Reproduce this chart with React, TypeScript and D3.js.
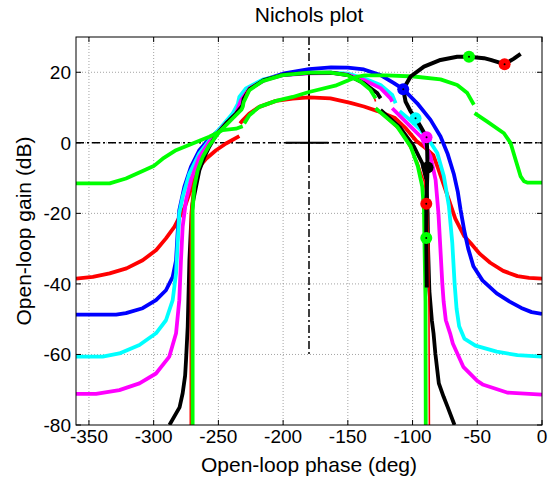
import React from "react";
import * as d3 from "d3";

// phase (deg), gain (dB); NaN marks a break in the curve
type Pt = [number, number];
const G: Pt = [NaN, NaN];

const redWide: Pt[] = [
  [-360, -38.5], [-347, -38], [-334, -37], [-321, -35.6], [-308.5, -33.3], [-298, -30.4],
  [-290.5, -27.1], [-284, -23.8], [-280, -21], [-276, -18.2], [-272.4, -14.4], [-268.6, -9.7],
  [-264.7, -6.8], [-259.5, -4.5], [-251.8, -2.1], [-244.1, -0.2], [-233.8, 1.9], G,
  [-233.3, 5.5], [-231.2, 6.4], [-226.1, 8.3], [-218.4, 10.2], [-205.5, 11.9], [-192.6, 12.5],
  [-180, 12.9], [-163.5, 12.6], [-148, 11.3], [-137.6, 10.3], [-127, 9], [-113.5, 7],
  [-105, 4], [-97, 0.5], [-90, -1.5], [-84, -3.5], [-80, -7.5], [-73.5, -14.5], [-67, -21.5],
  [-60, -26.5], [-55, -28.5], [-48, -31.5], [-40, -34], [-30, -36.3], [-19, -37.8],
  [-10, -38.3], [0, -38.5],
];

const blue: Pt[] = [
  [-360, -48.7], [-329, -48.7], [-321.4, -48.3], [-308.5, -46.9], [-298.2, -44.6], [-290.5, -41.8],
  [-285.3, -38], [-282.7, -33.3], [-281.5, -25.7], [-280.2, -19.1], [-276.3, -12.5], [-271.2, -6.8],
  [-264.7, -2.1], [-257, 1.2], [-246.7, 4.5], [-236.4, 9.2], [-231.2, 13], [-226.1, 15.4],
  [-215.8, 17.7], [-200.3, 19.6], [-180, 20.9], [-163, 21.4], [-150, 21.3], [-137.6, 20.8],
  [-124.7, 19.2], [-114.4, 16.9], [-107.2, 15.2], [-96.4, 11.2], [-86.1, 6.5], [-78.4, 1.8],
  [-73, -3], [-68, -9], [-65, -14], [-62.9, -19], [-60, -25], [-57, -30], [-53, -35],
  [-46, -39], [-35, -42.7], [-25, -45], [-16, -46.8], [-8, -48], [0, -48.5],
];

const cyan: Pt[] = [
  [-360, -60.6], [-339.4, -60.6], [-326.5, -59.7], [-311, -57.3], [-298.2, -54], [-290.5, -50.3],
  [-285.3, -44.6], [-282.7, -37], [-281.5, -28.5], [-280.2, -20], [-277.6, -15.3], [-272.4, -8.7],
  [-264.7, -3], [-257, 0.7], [-246.7, 5], [-239, 8.3], [-235, 11], [-233.8, 13], [-228.7, 15.4],
  [-215.8, 17.9], [-200.3, 19.2], [-180, 19.8], [-163, 19.9], [-150, 19.6], [-137.6, 18.3],
  [-124.7, 16.4], [-115.7, 13.6], [-113.1, 11.2], G, [-110, 9], [-102, 6.5], [-93.8, 3.7],
  [-86, 0], [-80.9, -2.9], [-75.8, -9.5], [-71.9, -18], [-69.3, -28.4], [-67.5, -40],
  [-66, -47], [-64, -52], [-60, -55.5], [-51.4, -57.5], [-35, -59.2], [-19, -60.2], [0, -60.6],
];

const magenta: Pt[] = [
  [-360, -71.2], [-344.5, -71.2], [-326.5, -70.1], [-311, -68.2], [-298.2, -65.4], [-287.9, -60.6],
  [-282.7, -54], [-280.2, -44.6], [-278.9, -33.3], [-277.6, -23.8], [-275, -16.3], [-271.2, -10.6],
  [-264.7, -4], [-257, 0.3], [-246.7, 4.5], [-236.4, 8.3], [-232.5, 12.1], [-226.1, 15.4],
  [-213.2, 17.9], [-200, 19.2], [-180, 19.7], [-163, 19.8], [-150, 19.3], [-137.6, 17.8],
  [-124.7, 15.5], [-117, 12.6], [-115.7, 11.7], G, [-115.7, 9.8], [-101.5, 4.6], [-93, 1.5],
  [-86.1, -3.9], [-82.2, -10.5], [-80, -20], [-78.5, -30], [-77, -40], [-76, -45],
  [-74.3, -50.3], [-71, -54], [-68.9, -56.9], [-60.8, -63.5], [-50, -67.5], [-45.9, -68.5],
  [-27, -70.8], [0, -71.4],
];

const black: Pt[] = [
  [-287.8, -80], [-280, -75], [-277.6, -71], [-275.7, -66], [-275, -61.6], [-273.7, -52.1],
  [-272.4, -33.3], [-271.2, -23.8], [-269.9, -17.2], [-267.3, -12.5], [-264.7, -7.8],
  [-260.8, -4], [-257, -1.1], [-251.8, 2.2], [-244.1, 5.5], [-236.4, 8.3], [-231.5, 10.5],
  [-230.5, 12.5], [-226, 15.2], [-215, 17.8], [-200, 19.3], [-180, 19.8], [-163, 19.9],
  [-150, 19.2], [-137.6, 16.9], [-127.3, 14.1], [-124.7, 12.6], G, [-124.7, 9.3],
  [-109.3, 4.2], [-99, -1], [-92.5, -5.8], [-89.4, -10.5], [-88.3, -20], [-88, -30],
  [-87, -42], [-85.1, -50.3], [-83.8, -54], [-82.4, -59.7], [-79.7, -68.2], [-76, -72],
  [-73, -74.8], [-67.6, -80],
];

const redNarrow: Pt[] = [
  [-271.7, -80], [-271.7, -20], [-270, -14], [-267, -9], [-263, -4.5], [-257, -1], [-249, 3],
  [-240, 6.5], [-232, 9.5], [-230.7, 11.6], [-228, 14.5], [-216, 17.5], [-200, 19.2],
  [-180, 19.8], [-163, 19.8], [-150, 19], [-138, 17], [-131, 14.5], [-128.6, 11.7], G,
  [-126, 9], [-110, 3.5], [-104, 0], [-96, -5.5], [-91, -11], [-88.5, -18], [-87.5, -30],
  [-87, -80],
];

const greenNarrow: Pt[] = [
  [-269.9, -80], [-269.9, -19.1], [-268.6, -12.5], [-266, -7.8], [-262.1, -4], [-257, -0.7],
  [-249.3, 3.1], [-239, 6.9], [-232, 9.5], [-231.2, 10.2], [-230.5, 11.5], [-226.1, 14.9],
  [-215.8, 17.5], [-200.3, 19.2], [-180, 19.9], [-163.4, 19.9], [-150.5, 19.2], [-140.2, 17.4],
  [-132.5, 15], [-128.6, 12.6], G, [-128.6, 9.8], [-111.9, 4.6], [-101.5, -1], [-95.9, -6.7],
  [-92.5, -12.4], [-91.2, -19], [-90.7, -30.3], [-90, -45], [-89.8, -80],
];

const greenWide: Pt[] = [
  [-360, -11.5], [-334, -11.5], [-321.4, -10.1], [-308.5, -8], [-300, -6.6], [-293, -4.5],
  [-282.7, -2.1], [-269.9, -0.2], [-257, 1.7], [-246.7, 3.6], [-236.4, 4], [-231.2, 4.7], G,
  [-230, 5.5], [-226.1, 7.8], [-218.4, 10.2], [-205.5, 11.9], [-192.6, 13], [-180, 14.4],
  [-159.7, 16.2], [-148.6, 17.9], [-143, 18.7], [-137, 19.1], [-120, 19.1], [-99, 18.8],
  [-78.4, 18], [-65.5, 16.4], [-57.7, 14.1], [-52.6, 10.8], G, [-52.1, 8.4], [-42.3, 6],
  [-29.4, 2.7], [-24.2, -0.1], [-20.4, -4.8], [-16.5, -9.5], [-13.9, -10.9], [-11, -11.3],
  [0, -11.3],
];

const markerPath: Pt[] = [
  [-16.5, 25.2], [-22, 23.8], [-28.9, 22.3], [-39.7, 23.5], [-44.8, 24], [-56.4, 24.4],
  [-65.5, 24.4], [-78.4, 23.5], [-91.2, 21.6], [-101.5, 18.8], [-107.2, 15.2], [-105.4, 11.7],
  [-101.5, 8.9], [-97.7, 7], [-93.8, 4.6], [-89.2, 1.6], [-88.7, -2], [-88.4, -7],
  [-89.4, -17.3], [-89.4, -27], [-89, -41],
];

const markerPhase = [-28.9, -56.4, -107.2, -97.7, -89.2, -88.4, -89.4, -89.4];
const markerGain = [22.3, 24.4, 15.2, 7, 1.6, -7, -17.3, -27];
const markerColor = ["#ff0000", "#00ff00", "#0000ff", "#00ffff", "#ff00ff", "#000000", "#ff0000", "#00ff00"];

const xTicks = [-350, -300, -250, -200, -150, -100, -50, 0];
const yTicks = [-80, -60, -40, -20, 0, 20];

const curves: { pts: Pt[]; color: string; w: number }[] = [
  { pts: redWide, color: "#ff0000", w: 3.8 },
  { pts: blue, color: "#0000ff", w: 3.8 },
  { pts: cyan, color: "#00ffff", w: 3.8 },
  { pts: magenta, color: "#ff00ff", w: 3.8 },
  { pts: black, color: "#000000", w: 3.8 },
  { pts: redNarrow, color: "#ff0000", w: 1.6 },
  { pts: greenNarrow, color: "#00ff00", w: 3.8 },
  { pts: greenWide, color: "#00ff00", w: 3.8 },
];

const W = 548;
const H = 478;
const L = 76, R = 542, T = 37, B = 425;
const FONT = "Arial, 'Liberation Sans', Helvetica, sans-serif";

export default function App() {
  const x = d3.scaleLinear().domain([-360, 0]).range([L, R]);
  const y = d3.scaleLinear().domain([-80, 30]).range([B, T]);
  const line = d3
    .line<Pt>()
    .defined((d) => !isNaN(d[0]))
    .x((d) => x(d[0]))
    .y((d) => y(d[1]));

  return (
    <svg width={W} height={H} style={{ position: "absolute", left: 0, top: 0, background: "#fff" }}>
      <defs>
        <clipPath id="ax">
          <rect x={L} y={T} width={R - L} height={B - T} />
        </clipPath>
      </defs>
      <rect x={0} y={0} width={W} height={H} fill="#fff" />
      {/* grid */}
      {xTicks.filter((t) => t > -360 && t < 0).map((t) => (
        <line key={"gx" + t} x1={x(t)} x2={x(t)} y1={T} y2={B} stroke="#8c8c8c" strokeWidth={0.8} strokeDasharray="1 2" />
      ))}
      {yTicks.filter((t) => t > -80).map((t) => (
        <line key={"gy" + t} x1={L} x2={R} y1={y(t)} y2={y(t)} stroke="#8c8c8c" strokeWidth={0.8} strokeDasharray="1 2" />
      ))}
      <g clipPath="url(#ax)">
        {/* reference lines */}
        <line x1={L} x2={R} y1={y(0)} y2={y(0)} stroke="#000" strokeWidth={1.5} strokeDasharray="8 3 2 3" />
        <line x1={x(-180)} x2={x(-180)} y1={T} y2={y(-60)} stroke="#000" strokeWidth={1.5} strokeDasharray="8 3 2 3" />
        <line x1={x(-198)} x2={x(-165)} y1={y(0)} y2={y(0)} stroke="#000" strokeWidth={2} />
        <line x1={x(-180)} x2={x(-180)} y1={y(21)} y2={y(-5.5)} stroke="#000" strokeWidth={2} />
        {curves.map((c, i) => (
          <path key={i} d={line(c.pts) || ""} fill="none" stroke={c.color} strokeWidth={c.w} strokeLinejoin="round" />
        ))}
        <path d={line(markerPath) || ""} fill="none" stroke="#000" strokeWidth={4} strokeLinejoin="round" />
        {markerPhase.map((p, i) => (
          <g key={"m" + i}>
            <circle cx={x(p)} cy={y(markerGain[i])} r={6} fill={markerColor[i]} />
            <circle cx={x(p)} cy={y(markerGain[i])} r={1} fill="#000" />
          </g>
        ))}
      </g>
      {/* axes box and ticks */}
      <rect x={L} y={T} width={R - L} height={B - T} fill="none" stroke="#000" strokeWidth={1} />
      {xTicks.map((t) => (
        <g key={"tx" + t}>
          <line x1={x(t)} x2={x(t)} y1={B} y2={B - 5} stroke="#000" />
          <line x1={x(t)} x2={x(t)} y1={T} y2={T + 5} stroke="#000" />
          <text x={x(t)} y={443} textAnchor="middle" fontFamily={FONT} fontSize={19}>{t}</text>
        </g>
      ))}
      {yTicks.map((t) => (
        <g key={"ty" + t}>
          <line x1={L} x2={L + 5} y1={y(t)} y2={y(t)} stroke="#000" />
          <line x1={R} x2={R - 5} y1={y(t)} y2={y(t)} stroke="#000" />
          <text x={71} y={y(t) + 7} textAnchor="end" fontFamily={FONT} fontSize={19}>{t}</text>
        </g>
      ))}
      <text x={(L + R) / 2} y={21.5} textAnchor="middle" fontFamily={FONT} fontSize={21}>Nichols plot</text>
      <text x={(L + R) / 2} y={471.5} textAnchor="middle" fontFamily={FONT} fontSize={21}>Open-loop phase (deg)</text>
      <text transform={`translate(31,${(T + B) / 2}) rotate(-90)`} textAnchor="middle" fontFamily={FONT} fontSize={21}>Open-loop gain (dB)</text>
    </svg>
  );
}
